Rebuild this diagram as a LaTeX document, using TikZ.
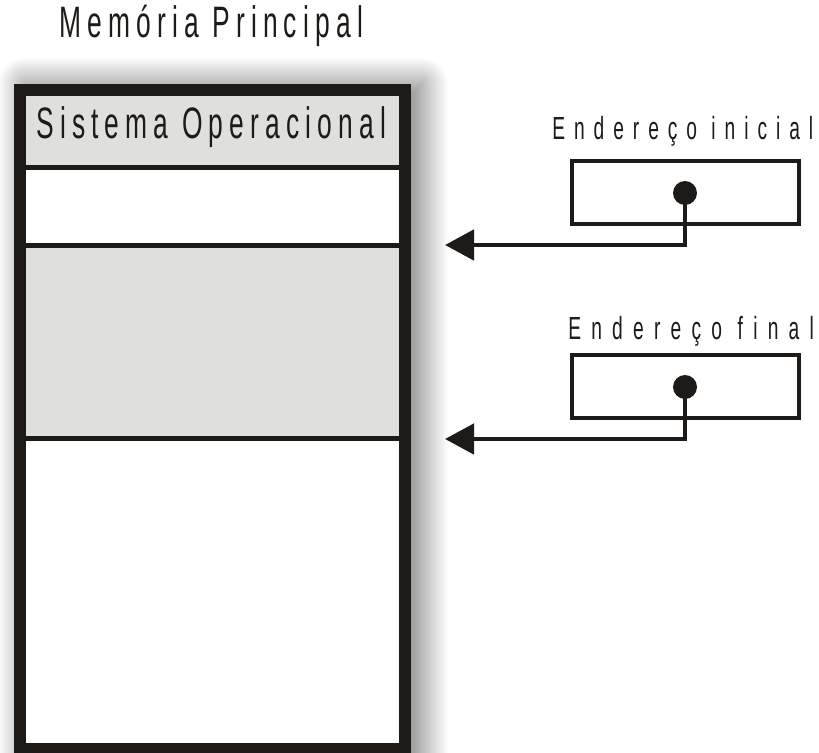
\documentclass[tikz,border=0pt]{standalone}
\usepackage{fontspec}
\usetikzlibrary{arrows.meta,shadows.blur}
\newfontfamily\labelfont[FakeStretch=0.6]{Liberation Sans}
\definecolor{ink}{RGB}{30,26,23}
\definecolor{panelgray}{RGB}{223,223,222}

\begin{document}
\begin{tikzpicture}[x=0.75pt,y=-0.75pt,
    bigtext/.style={anchor=base west, inner sep=0pt, text=ink,
      font=\labelfont\fontsize{33}{36}\selectfont\addfontfeature{LetterSpace=14}},
    regtext/.style={anchor=base west, inner sep=0pt, text=ink,
      font=\labelfont\fontsize{24}{27}\selectfont\addfontfeature{LetterSpace=#1}},
    divider/.style={draw=ink, line width=3.75pt},
    regbox/.style={draw=ink, line width=3.4pt, fill=white,
      minimum width=170.25pt, minimum height=47.25pt, inner sep=0pt},
    pointer/.style={circle, fill=ink, minimum size=18pt, inner sep=0pt},
    wire/.style={draw=ink, line width=3.6pt,
      -{Triangle[length=21.75pt,width=22.5pt]}}]
  \useasboundingbox (0,0) rectangle (819,753);

  % main memory column with its soft shadow
  \fill[white, blur shadow={shadow xshift=8pt, shadow yshift=0pt,
      shadow blur radius=20pt, shadow blur steps=30, shadow opacity=55}]
    (14,84) rectangle (411,790);
  \fill[panelgray] (26,96) rectangle (399,167);
  \fill[white] (26,167) rectangle (399,245);
  \fill[panelgray] (26,245) rectangle (399,438);
  \fill[white] (26,438) rectangle (399,745);
  \draw[divider] (26,167) -- (399,167);
  \draw[divider] (26,245) -- (399,245);
  \draw[divider] (26,438) -- (399,438);
  \draw[ink, line width=9pt] (20,90) rectangle (405,749);

  \node[bigtext] (title) at (59,37) {Memória Principal};
  \node[bigtext] (os) at (36,138) {Sistema Operacional};

  % base and limit registers
  \node[regtext=28] (labA) at (552,139) {Endereço inicial};
  \node[regbox] (regA) at (685.5,192.5) {};
  \node[pointer] (dotA) at (685,193) {};
  \coordinate (tipA) at (445,245);
  \draw[wire] (dotA.center) |- (tipA);

  \node[regtext=32] (labB) at (568,339) {Endereço final};
  \node[regbox] (regB) at (685.5,386.5) {};
  \node[pointer] (dotB) at (685,387) {};
  \coordinate (tipB) at (445,439);
  \draw[wire] (dotB.center) |- (tipB);
\end{tikzpicture}
\end{document}
